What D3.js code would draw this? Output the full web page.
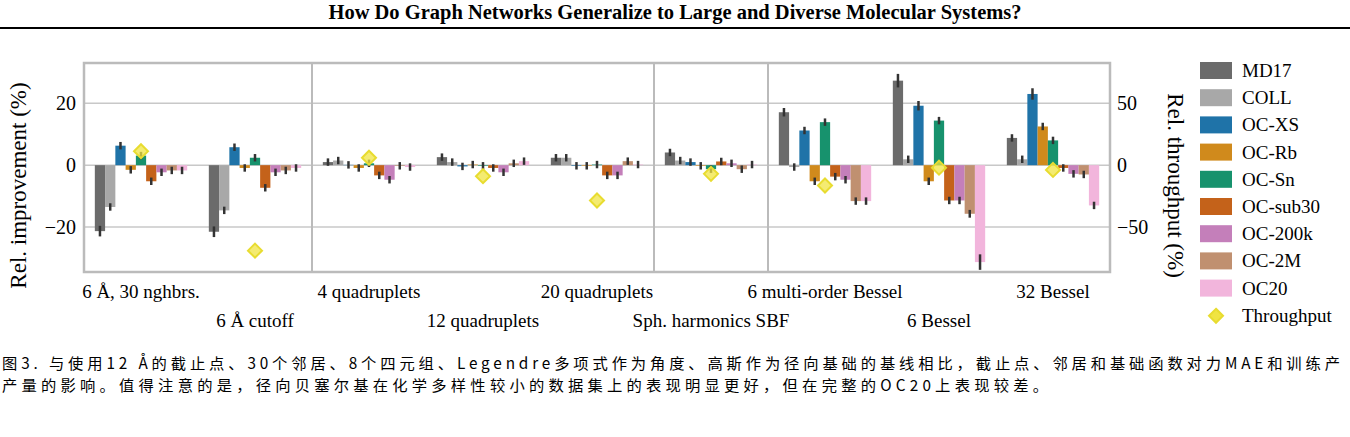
<!DOCTYPE html><html><head><meta charset="utf-8"><script src="https://d3js.org/d3.v7.min.js"></script>
<style>body{margin:0;background:#fff}</style></head><body><svg id="c" width="1350" height="437"></svg>
<script>
const groups=["6 Å, 30 nghbrs.","6 Å cutoff","4 quadruplets","12 quadruplets","20 quadruplets","Sph. harmonics SBF","6 multi-order Bessel","6 Bessel","32 Bessel"];
const seriesNames=["MD17","COLL","OC-XS","OC-Rb","OC-Sn","OC-sub30","OC-200k","OC-2M","OC20"];
const colors=["#6b6b6b","#a8a8a8","#1f73a8","#d08a1c","#17926d","#c4621a","#c47fba","#c09070","#f2b5dc"];
const MD17=[-21.3,-21.5,1,2.6,2.4,4.1,17.1,27.3,8.8];
const COLL=[-13.5,-14.6,1.5,1,2.4,1.5,-0.6,1.9,1.9];
const OCXS=[6.3,5.8,0.1,-0.4,-0.2,1,11.2,19.2,23];
const OCRb=[-1.5,-0.9,-0.9,0.2,-0.2,-0.2,-5.2,-5.2,12.5];
const OCSn=[3.1,2.4,0.6,-0.2,0.2,-1.3,13.9,14.4,8];
const OCsub30=[-5.2,-7.3,-3.3,-0.9,-3.3,1.2,-3.7,-11.4,-0.9];
const OC200k=[-2.3,-2.3,-4.7,-2.3,-3.3,0.6,-4.7,-11.4,-2.8];
const OC2M=[-1.7,-1.7,-0.2,0.6,1.3,-1.3,-11.6,-15.7,-3];
const OC20=[-1.7,-0.9,-0.6,1.3,0.2,0.2,-11.6,-31.3,-13];
const throughput=[11.3,-69,6,-8.9,-28.5,-7,-16.4,-2,-3.8];
const leftTicks=[-20,0,20], rightTicks=[-50,0,50];
const series=[MD17,COLL,OCXS,OCRb,OCSn,OCsub30,OC200k,OC2M,OC20];

const svg=d3.select("#c");
const F="'Liberation Serif','DejaVu Serif',serif";
svg.append("text").attr("x",675).attr("y",19).attr("text-anchor","middle").attr("font-family",F).attr("font-weight","bold").attr("font-size",20.5).text("How Do Graph Networks Generalize to Large and Diverse Molecular Systems?");
svg.append("line").attr("x1",0).attr("x2",1350).attr("y1",28).attr("y2",28).attr("stroke","#000").attr("stroke-width",2);

const L=84,R=1110,T=63,B=272;
const x=d3.scaleBand().domain(groups).range([L,R]).paddingInner(0.19).paddingOuter(0.095);
const xi=d3.scaleBand().domain(seriesNames).range([0,x.bandwidth()]);
const y=d3.scaleLinear().domain([-34.5,33]).range([B,T]);
const y2=d3.scaleLinear().domain([-34.5*2.5,33*2.5]).range([B,T]);
const g=svg.append("g");
leftTicks.forEach(t=>g.append("line").attr("x1",L).attr("x2",R).attr("y1",y(t)).attr("y2",y(t)).attr("stroke","#c8c8c8").attr("stroke-width",1.5));
const step=x.step();
[2,5,6].forEach(i=>{const xx=x(groups[i])-step*x.paddingInner()/2;g.append("line").attr("x1",xx).attr("x2",xx).attr("y1",T).attr("y2",B).attr("stroke","#bbb").attr("stroke-width",2);});
series.forEach((s,si)=>{
  s.forEach((v,gi)=>{
    const bx=x(groups[gi])+xi(seriesNames[si]);
    g.append("rect").attr("x",bx).attr("width",xi.bandwidth()).attr("y",Math.min(y(v),y(0))).attr("height",Math.abs(y(v)-y(0))).attr("fill",colors[si]);
    const e=Math.max(1.2,Math.abs(v)*0.08);
    g.append("line").attr("x1",bx+xi.bandwidth()/2).attr("x2",bx+xi.bandwidth()/2).attr("y1",y(v-e)).attr("y2",y(v+e)).attr("stroke","#333").attr("stroke-width",2.5);
  });
});
const dia="M0,-7L7,0L0,7L-7,0Z";
throughput.forEach((v,gi)=>{
  const cx=x(groups[gi])+x.bandwidth()/2, cy=y2(v);
  g.append("path").attr("d",dia).attr("transform",`translate(${cx},${cy})`).attr("fill","#f0e442").attr("fill-opacity",0.75).attr("stroke","#e8dc30").attr("stroke-width",2);
});
g.append("rect").attr("x",L).attr("y",T).attr("width",R-L).attr("height",B-T).attr("fill","none").attr("stroke","#bbb").attr("stroke-width",2.5);
leftTicks.forEach(t=>svg.append("text").attr("x",L-8).attr("y",y(t)+7).attr("text-anchor","end").attr("font-family",F).attr("font-size",20).text(t===0?"0":(t<0?"−"+(-t):t)));
rightTicks.forEach(t=>svg.append("text").attr("x",R+7).attr("y",y2(t)+7).attr("font-family",F).attr("font-size",20).text(t===0?"0":(t<0?"−"+(-t):t)));
svg.append("text").attr("transform",`translate(26,${(T+B)/2+18}) rotate(-90)`).attr("text-anchor","middle").attr("font-family",F).attr("font-size",23).text("Rel. improvement (%)");
svg.append("text").attr("transform",`translate(1168,${(T+B)/2+18}) rotate(90)`).attr("text-anchor","middle").attr("font-family",F).attr("font-size",23).text("Rel. throughput (%)");
groups.forEach((n,i)=>svg.append("text").attr("x",x(n)+x.bandwidth()/2).attr("y",i%2===0?298:327).attr("text-anchor","middle").attr("font-family",F).attr("font-size",19).text(n));
const lg=svg.append("g").attr("transform","translate(1200,62)");
seriesNames.concat(["Throughput"]).forEach((n,i)=>{
  const yy=i*27.2;
  if(i<9) lg.append("rect").attr("x",0).attr("y",yy).attr("width",32).attr("height",17).attr("fill",colors[i]);
  else lg.append("path").attr("d",dia).attr("transform",`translate(16,${yy+9})`).attr("fill","#f0e442").attr("stroke","#e8dc30").attr("stroke-width",2);
  lg.append("text").attr("x",42).attr("y",yy+15).attr("font-family",F).attr("font-size",19).text(n);
});
const CF="'Noto Sans CJK SC','DejaVu Sans Mono',monospace";
svg.append("text").attr("x",2).attr("y",369).attr("font-family",CF).attr("font-size",15.3).attr("textLength",1338).attr("lengthAdjust","spacing").text("图3. 与使用12 Å的截止点、30个邻居、8个四元组、Legendre多项式作为角度、高斯作为径向基础的基线相比，截止点、邻居和基础函数对力MAE和训练产");
svg.append("text").attr("x",2).attr("y",391).attr("font-family",CF).attr("font-size",15.3).attr("textLength",1046).attr("lengthAdjust","spacing").text("产量的影响。值得注意的是，径向贝塞尔基在化学多样性较小的数据集上的表现明显更好，但在完整的OC20上表现较差。");
</script></body></html>
